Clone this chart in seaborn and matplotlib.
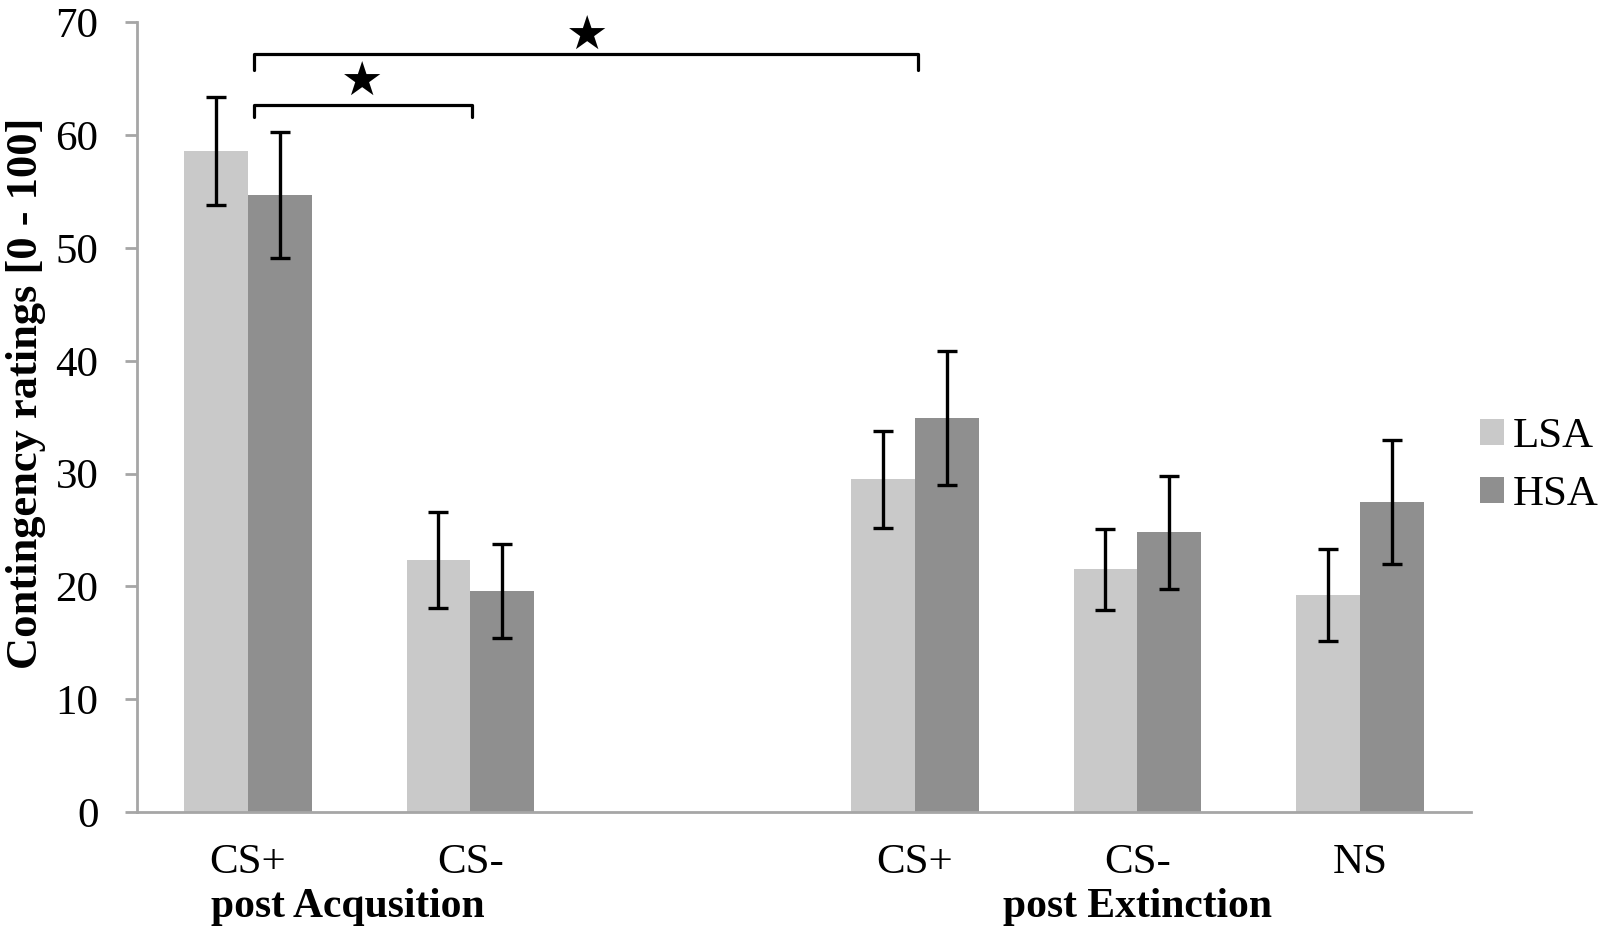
import pandas as pd
import matplotlib
matplotlib.use("Agg")
import matplotlib.pyplot as plt
import seaborn as sns

sns.set_style("white")
plt.rcParams['font.family'] = ['Liberation Serif', 'DejaVu Serif']
plt.rcParams['text.color'] = 'black'
plt.rcParams['axes.labelcolor'] = 'black'
plt.rcParams['xtick.color'] = 'black'
plt.rcParams['ytick.color'] = 'black'

# data
conditions = ["acq_csp", "acq_csm", "gap", "ext_csp", "ext_csm", "ext_ns"]
tick_labels = ["CS+", "CS-", "", "CS+", "CS-", "NS"]
present = ["acq_csp", "acq_csm", "ext_csp", "ext_csm", "ext_ns"]
groups = ["LSA", "HSA"]
lsa_means = [58.6, 22.3, 29.5, 21.5, 19.25]
hsa_means = [54.7, 19.6, 34.9, 24.8, 27.5]
lsa_sem = [4.8, 4.25, 4.3, 3.55, 4.1]
hsa_sem = [5.6, 4.2, 5.95, 5.0, 5.5]
phase_labels = ["post Acqusition", "post Extinction"]
phase_pos = [0.45, 4.0]

# significance brackets: (x_start, x_end, y, tip)
brackets = [(0.027, 3.013, 67.2, 65.8), (0.027, 1.007, 62.7, 61.6)]
stars = [(1.524, 68.7), (0.513, 64.6)]

colors = {"LSA": "#c9c9c9", "HSA": "#8f8f8f"}
axis_gray = "#a6a6a6"

df = pd.DataFrame({
    "condition": present * 2,
    "group": ["LSA"] * len(present) + ["HSA"] * len(present),
    "rating": lsa_means + hsa_means,
    "sem": lsa_sem + hsa_sem,
})

fig = plt.figure(figsize=(15.98, 9.34), dpi=100)
ax = fig.add_axes([0.0857, 0.1306, 0.8348, 0.8455])

sns.barplot(data=df, x="condition", y="rating", hue="group", order=conditions,
            hue_order=groups, palette=colors, width=0.575, errorbar=None,
            saturation=1, linewidth=0, ax=ax)

# error bars on the bar centres
for cont, g in zip(ax.containers, groups):
    sub = df[df.group == g]
    xs = [b.get_x() + b.get_width() / 2 for b in cont]
    hs = [b.get_height() for b in cont]
    ax.errorbar(xs, hs, yerr=sub["sem"].values, fmt="none", ecolor="black",
                elinewidth=2.4, capsize=7, capthick=2.4, zorder=3)

ax.set_xlim(-0.5, 5.5)
ax.set_ylim(0, 70)
ax.set_yticks(range(0, 80, 10))
ax.set_xticks(range(len(conditions)))
ax.set_xticklabels(tick_labels)
ax.set_xlabel("")
ax.set_ylabel("Contingency ratings [0 - 100]", fontsize=32, fontweight="bold")
ax.yaxis.set_label_coords(-0.068, 0.53)

sns.despine(ax=ax)
for s in ["left", "bottom"]:
    ax.spines[s].set_color(axis_gray)
    ax.spines[s].set_linewidth(2)
ax.tick_params(axis="y", left=True, length=8.6, width=2, color=axis_gray,
               pad=19, labelsize=31, direction="out")
ax.tick_params(axis="x", length=0, pad=23, labelsize=31)

for lab, xp in zip(phase_labels, phase_pos):
    ax.text(xp, -0.12, lab, transform=ax.get_xaxis_transform(), ha="center",
            va="center", fontsize=30, fontweight="bold")

for x0, x1, y, tip in brackets:
    ax.plot([x0, x0, x1, x1], [tip, y, y, tip], color="black", lw=2.3,
            clip_on=False, solid_joinstyle="round")
for xs_, ys_ in stars:
    ax.text(xs_, ys_, "\u2605", ha="center", va="center", fontsize=34,
            family="DejaVu Sans", clip_on=False)

handles, labels = ax.get_legend_handles_labels()
ax.legend(handles, labels, loc="center left", bbox_to_anchor=(1480 / 1598, 0.501),
          bbox_transform=fig.transFigure, frameon=False, fontsize=31,
          handlelength=0.55, handleheight=0.55, handletextpad=0.2,
          labelspacing=0.45, borderpad=0, borderaxespad=0)

fig.savefig("out.png", dpi=100)
